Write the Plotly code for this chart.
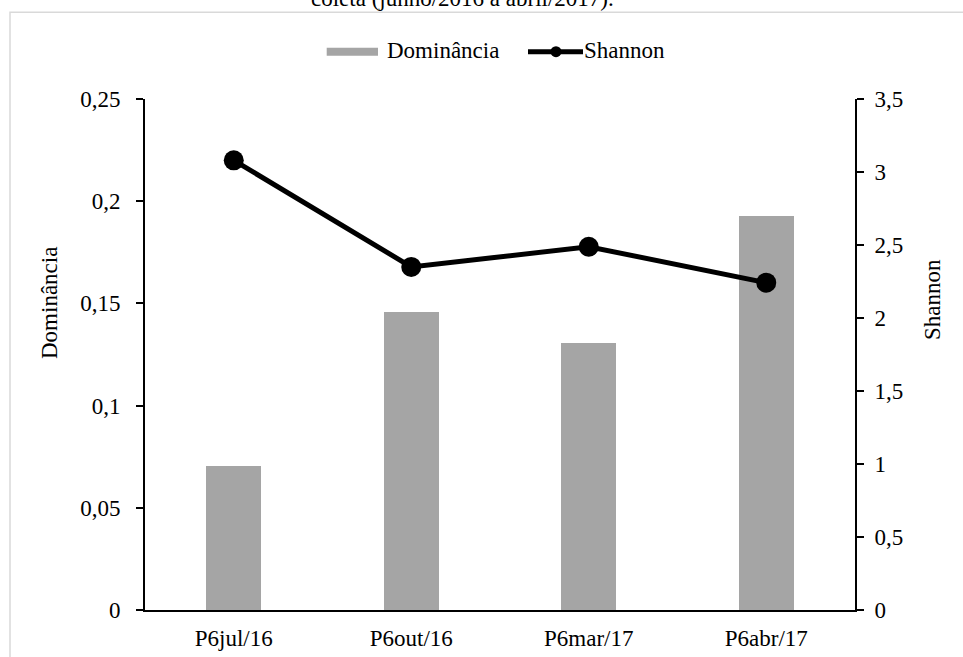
import plotly.graph_objects as go

# Coletas no ponto P6
categorias = ["P6jul/16", "P6out/16", "P6mar/17", "P6abr/17"]
dominancia = [0.0706, 0.1458, 0.1306, 0.1928]
shannon = [3.08, 2.35, 2.488, 2.242]

W, H = 963, 657
ML, MR, MT, MB = 145, 108, 99, 47
PW = W - ML - MR
PH = H - MT - MB

FONT = "Liberation Serif, Times New Roman, serif"
FS = 23
CINZA = "#a5a5a5"


def px_x(x):
    return (x - ML) / PW


def px_y(y):
    return (H - MB - y) / PH


fig = go.Figure()

fig.add_trace(go.Bar(
    x=categorias, y=dominancia, name="Dominância",
    marker=dict(color=CINZA, line=dict(width=0)),
    width=0.31, yaxis="y", showlegend=False,
))

fig.add_trace(go.Scatter(
    x=categorias, y=shannon, name="Shannon", mode="lines+markers",
    line=dict(color="black", width=5),
    marker=dict(color="black", size=20),
    yaxis="y2", showlegend=False, cliponaxis=False,
))

shapes = [
    # moldura do gráfico
    dict(type="rect", xref="paper", yref="paper",
         x0=px_x(10), x1=px_x(990), y0=px_y(700), y1=px_y(12.3),
         line=dict(color="#d9d9d9", width=1.5), fillcolor="rgba(0,0,0,0)",
         layer="below"),
    # legenda: barra
    dict(type="rect", xref="paper", yref="paper",
         x0=px_x(326.7), x1=px_x(378), y0=px_y(55.7), y1=px_y(47.7),
         line=dict(width=0), fillcolor=CINZA),
    # legenda: linha
    dict(type="line", xref="paper", yref="paper",
         x0=px_x(528), x1=px_x(583), y0=px_y(51.7), y1=px_y(51.7),
         line=dict(color="black", width=5)),
    dict(type="circle", xref="paper", yref="paper",
         x0=px_x(550.5), x1=px_x(561.5), y0=px_y(57.2), y1=px_y(46.2),
         line=dict(width=0), fillcolor="black"),
]

annotations = [
    dict(text="coleta (junho/2016 a abril/2017).", xref="paper", yref="paper",
         x=px_x(462), y=px_y(13), xanchor="center", yanchor="bottom",
         showarrow=False, font=dict(family=FONT, size=FS, color="black")),
    dict(text="Dominância", xref="paper", yref="paper",
         x=px_x(385), y=px_y(50.5), xanchor="left", yanchor="middle",
         showarrow=False, font=dict(family=FONT, size=FS, color="black")),
    dict(text="Shannon", xref="paper", yref="paper",
         x=px_x(582), y=px_y(50.5), xanchor="left", yanchor="middle",
         showarrow=False, font=dict(family=FONT, size=FS, color="black")),
    dict(text="Dominância", xref="paper", yref="paper",
         x=px_x(49), y=px_y(303), xanchor="center", yanchor="middle",
         textangle=-90, showarrow=False,
         font=dict(family=FONT, size=FS, color="black")),
    dict(text="Shannon", xref="paper", yref="paper",
         x=px_x(932), y=px_y(300), xanchor="center", yanchor="middle",
         textangle=-90, showarrow=False,
         font=dict(family=FONT, size=FS, color="black")),
]

fig.update_layout(
    width=W, height=H,
    margin=dict(l=ML, r=MR, t=MT, b=MB, pad=0, autoexpand=False),
    paper_bgcolor="white", plot_bgcolor="white",
    separators=", ",
    font=dict(family=FONT, size=FS, color="black"),
    bargap=0, showlegend=False,
    shapes=shapes, annotations=annotations,
    xaxis=dict(
        type="category", range=[-0.5, 3.5], automargin=False,
        showline=True, linecolor="black", linewidth=2,
        ticks="", showgrid=False, zeroline=False,
        tickfont=dict(family=FONT, size=FS, color="black"),
        ticklabelstandoff=6,
    ),
    yaxis=dict(
        range=[0, 0.25], dtick=0.05, tick0=0, automargin=False,
        showline=True, linecolor="black", linewidth=2,
        ticks="outside", ticklen=7, tickwidth=2, tickcolor="black",
        showgrid=False, zeroline=False,
        tickfont=dict(family=FONT, size=FS, color="black"),
        ticklabelstandoff=11,
    ),
    yaxis2=dict(
        range=[0, 3.5], dtick=0.5, tick0=0, automargin=False,
        overlaying="y", side="right",
        showline=True, linecolor="black", linewidth=2,
        ticks="outside", ticklen=7, tickwidth=2, tickcolor="black",
        showgrid=False, zeroline=False,
        tickfont=dict(family=FONT, size=FS, color="black"),
        ticklabelstandoff=6,
    ),
)

fig.write_html("out.html")
